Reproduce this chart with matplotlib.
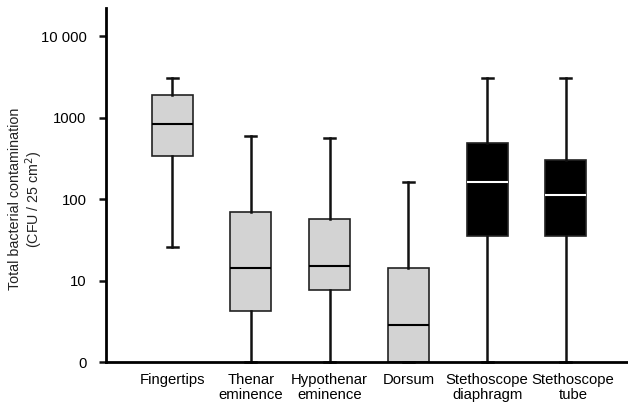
import numpy as np
import matplotlib
matplotlib.use("Agg")
import matplotlib.pyplot as plt

plt.rcParams["font.family"] = ["Liberation Sans", "DejaVu Sans"]

# Box plot summaries (CFU / 25 cm2); 0 sits on the log floor
categories = ["Fingertips", "Thenar\neminence", "Hypothenar\neminence", "Dorsum",
              "Stethoscope\ndiaphragm", "Stethoscope\ntube"]
whis_low = [26, 0, 0, 0, 0, 0]
q1 = [335, 4.2, 7.6, 0, 35, 35]
median = [830, 14.2, 15, 2.85, 165, 112]
q3 = [1890, 69, 57, 14.2, 485, 300]
whis_high = [3050, 595, 560, 162, 3050, 3050]
fills = ["#d3d3d3", "#d3d3d3", "#d3d3d3", "#d3d3d3", "black", "black"]
median_colors = ["black", "black", "black", "black", "white", "white"]

yticks = [1, 10, 100, 1000, 10000]
ytick_labels = ["0", "10", "100", "1000", "10 000"]

floor = 1  # log axis floor, labelled "0"

stats = []
for i, name in enumerate(categories):
    stats.append({
        "label": name,
        "whislo": max(whis_low[i], floor),
        "q1": max(q1[i], floor),
        "med": max(median[i], floor),
        "q3": max(q3[i], floor),
        "whishi": whis_high[i],
        "fliers": [],
    })

fig = plt.figure(figsize=(6.28, 4.08), dpi=100)
ax = fig.add_axes([0.1688, 0.1127, 0.8312, 0.8676])

positions = np.arange(1, len(categories) + 1)
bp = ax.bxp(stats, positions=positions, widths=0.52, capwidths=0.14,
            patch_artist=True, showfliers=False,
            boxprops=dict(linewidth=1.2, edgecolor="#222222"),
            whiskerprops=dict(linewidth=1.8, color="#111111"),
            capprops=dict(linewidth=1.8, color="#111111"),
            medianprops=dict(linewidth=1.5))

for box, fc in zip(bp["boxes"], fills):
    box.set_facecolor(fc)
for med, mc in zip(bp["medians"], median_colors):
    med.set_color(mc)
for artist in bp["whiskers"] + bp["caps"]:
    artist.set_clip_on(False)

ax.set_yscale("log")
ax.set_ylim(floor, 22300)
ax.set_xlim(0.16, 6.79)
ax.set_yticks(yticks)
ax.set_yticklabels(ytick_labels)
ax.yaxis.set_minor_locator(matplotlib.ticker.NullLocator())

# the last label sits a little right of its box in the original
label_pos = positions.astype(float)
label_pos[-1] += 0.09
ax.set_xticks(label_pos)
ax.set_xticklabels(categories, linespacing=1.1)

ax.spines["top"].set_visible(False)
ax.spines["right"].set_visible(False)
ax.spines["left"].set_linewidth(2)
ax.spines["bottom"].set_linewidth(2)
ax.spines["bottom"].set_zorder(5)

ax.tick_params(axis="y", length=5, width=1.8, labelsize=10.7, pad=9, color="#111111")
ax.tick_params(axis="x", length=0, labelsize=10.7, pad=8)

ax.set_ylabel("Total bacterial contamination\n(CFU / 25 cm$^2$)", fontsize=10.3,
              linespacing=1.1, color="#222222")
ax.yaxis.set_label_coords(-0.117, 0.46)

fig.savefig("out.png", dpi=100)
